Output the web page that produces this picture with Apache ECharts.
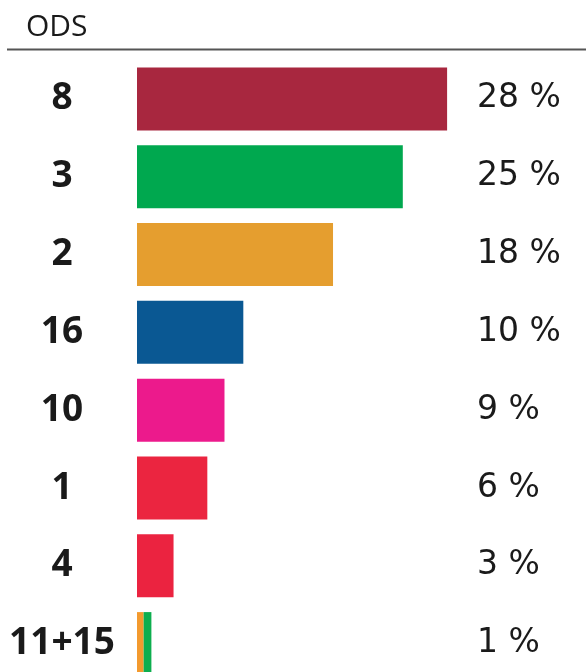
<!DOCTYPE html>
<html style="height: 100%">
  <head>
    <meta charset="utf-8" />
  </head>
  <body style="height: 100%; margin: 0; background: #fff">
    <div id="ods-container" style="width: 586px; height: 672px"></div>
    <script type="text/javascript" src="https://cdn.jsdelivr.net/npm/echarts@6/dist/echarts.min.js"></script>
    <script type="text/javascript">
      // categorias (ODS)
      let odsNames = ["8", "3", "2", "16", "10", "1", "4", "11+15"];
      // longitud de cada barra
      let mainValues = [28, 24, 17.7, 9.6, 7.9, 6.35, 3.3, 0.6];
      // segunda parte de la barra 11+15 (ODS 15)
      let secondValues = ["-", "-", "-", "-", "-", "-", "-", 0.7];
      // etiquetas de porcentaje
      let pctLabels = ["28 %", "25 %", "18 %", "10 %", "9 %", "6 %", "3 %", "1 %"];
      let barColors = ["#A8273F", "#00A84F", "#E59E2F", "#0A5893", "#EC1A8C", "#EB2540", "#EB2340", "#F39A2E"];
      let secondColor = "#0DAE4E";

      var dom = document.getElementById("ods-container");
      var myChart = echarts.init(dom);

      var option = {
        animation: false,
        grid: {
          left: 137,
          right: 109,
          top: 60,
          height: 622.5,
          outerBoundsMode: "none",
          containLabel: false,
        },
        graphic: [
          {
            type: "text",
            left: 26,
            top: 12,
            style: {
              text: "ODS",
              fontFamily: "Open Sans",
              fontSize: 30,
              fill: "#1a1a1a",
            },
          },
          {
            type: "line",
            shape: { x1: 7, y1: 49.5, x2: 586, y2: 49.5 },
            style: { stroke: "#555", lineWidth: 2 },
          },
        ],
        xAxis: {
          type: "value",
          min: 0,
          max: 30.7,
          show: false,
        },
        yAxis: [
          {
            type: "category",
            data: odsNames,
            inverse: true,
            axisLine: { show: false },
            axisTick: { show: false },
            axisLabel: {
              align: "center",
              margin: 75,
              fontFamily: "Open Sans",
              fontWeight: "bold",
              fontSize: 37,
              color: "#1a1a1a",
            },
          },
          {
            type: "category",
            data: pctLabels,
            inverse: true,
            position: "right",
            axisLine: { show: false },
            axisTick: { show: false },
            axisLabel: {
              align: "left",
              margin: 0,
              fontFamily: "DejaVu Sans",
              fontSize: 33,
              color: "#1a1a1a",
            },
          },
        ],
        series: [
          {
            type: "bar",
            stack: "ods",
            barWidth: 63,
            data: mainValues.map(function (v, i) {
              return { value: v, itemStyle: { color: barColors[i] } };
            }),
          },
          {
            type: "bar",
            stack: "ods",
            barWidth: 63,
            itemStyle: { color: secondColor },
            data: secondValues,
          },
        ],
      };

      myChart.setOption(option);
    </script>
  </body>
</html>
